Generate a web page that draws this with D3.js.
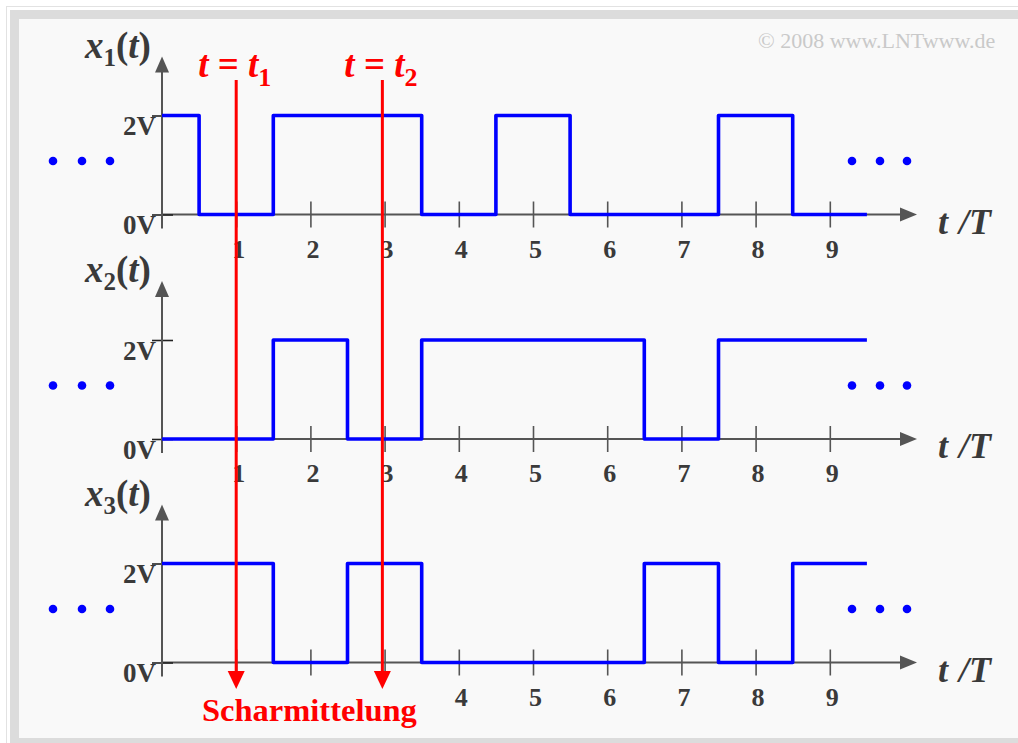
<!DOCTYPE html>
<html>
<head>
<meta charset="utf-8">
<script src="https://cdn.jsdelivr.net/npm/d3@7"></script>
<style>
  html, body { margin: 0; padding: 0; background: #fff; }
  svg { display: block; }
</style>
</head>
<body>
<script>
// Binary sample functions x1(t), x2(t), x3(t): one bit per symbol interval
// [k-0.5, k+0.5] on the t/T axis, bit 1 -> 2 V, bit 0 -> 0 V.
const symbolIndex = [0, 1, 2, 3, 4, 5, 6, 7, 8, 9];
const x1Bits = [1, 0, 1, 1, 0, 1, 0, 0, 1, 0];
const x2Bits = [0, 0, 1, 0, 1, 1, 1, 0, 1, 1];
const x3Bits = [1, 1, 0, 1, 0, 0, 0, 1, 0, 1];
const seriesIndex = ["1", "2", "3"];
const bitVolts = 2;

const levelValues = [0, 2];
const levelLabels = ["0V", "2V"];

const timeTicks = [1, 2, 3, 4, 5, 6, 7, 8, 9];
const timeTickLabelsTop = [1, 2, 3, 4, 5, 6, 7, 8, 9];
const timeTickLabelsBottom = [4, 5, 6, 7, 8, 9];

// Observation instants for the ensemble average
const samplingTimes = [1.0, 2.97];
const samplingNames = ["1", "2"];

const W = 1018, H = 743;
const serif = "'Liberation Serif', 'Times New Roman', serif";
const axisColor = "#555";
const textColor = "#3a3a3a";
const blue = "#0000ff";
const red = "#ff0000";

const svg = d3.select("body").append("svg")
  .attr("width", W).attr("height", H);

// Frame
svg.append("rect").attr("width", W).attr("height", H).attr("fill", "#fff");
svg.append("rect").attr("x", 6.5).attr("y", 6.5).attr("width", W).attr("height", H)
  .attr("fill", "none").attr("stroke", "#e2e2e2").attr("stroke-width", 1);
svg.append("rect").attr("x", 10).attr("y", 10).attr("width", W).attr("height", H)
  .attr("fill", "#dcdcdc");
svg.append("rect").attr("x", 19).attr("y", 19).attr("width", W).attr("height", 738 - 19)
  .attr("fill", "#f9f9f9");

// Copyright
svg.append("text").attr("x", 758).attr("y", 48)
  .attr("font-family", serif).attr("font-size", 22).attr("fill", "#c9c9c9")
  .text("\u00a9 2008 www.LNTwww.de");

const x = d3.scaleLinear().domain([0, 10]).range([162, 904]);
const axisEnd = 917;

const panels = [
  { bits: x1Bits, zero: 214.5, labels: timeTickLabelsTop },
  { bits: x2Bits, zero: 439, labels: timeTickLabelsTop },
  { bits: x3Bits, zero: 662.5, labels: timeTickLabelsBottom }
];

const stepLine = (y) => d3.line()
  .x(d => x(d.t)).y(d => y(d.v))
  .curve(d3.curveStepAfter);

panels.forEach((p, pi) => {
  const y = d3.scaleLinear().domain([0, 2]).range([p.zero, p.zero - 99]);
  const g = svg.append("g");

  // Time axis with crossing ticks
  const xAxis = d3.axisBottom(x)
    .tickValues(timeTicks)
    .tickSize(13)
    .tickPadding(0)
    .tickFormat(d => p.labels.includes(d) ? String(d) : "");
  const gx = g.append("g").attr("transform", `translate(0,${y(0)})`).call(xAxis);
  gx.select(".domain").remove();
  gx.selectAll(".tick line").attr("y1", -13).attr("stroke", axisColor).attr("stroke-width", 1.6);
  gx.selectAll(".tick text")
    .attr("y", 0).attr("dy", 0)
    .attr("transform", "translate(2,43)")
    .attr("font-family", serif).attr("font-size", 26).attr("font-weight", "bold")
    .attr("fill", textColor);
  g.append("line")
    .attr("x1", x(0)).attr("x2", axisEnd - 14)
    .attr("y1", y(0)).attr("y2", y(0))
    .attr("stroke", axisColor).attr("stroke-width", 2);
  g.append("path")
    .attr("d", `M${axisEnd},${y(0)} L${axisEnd - 17},${y(0) - 7} L${axisEnd - 17},${y(0) + 7} Z`)
    .attr("fill", axisColor);
  const tl = g.append("text")
    .attr("x", 938).attr("y", y(0) + 19)
    .attr("font-family", serif).attr("font-size", 36).attr("font-style", "italic").attr("font-weight", "bold")
    .attr("fill", textColor);
  tl.append("tspan").text("t");
  tl.append("tspan").attr("dx", 11).text("/");
  tl.append("tspan").text("T");

  // Amplitude axis
  const yAxis = d3.axisLeft(y)
    .tickValues(levelValues)
    .tickSize(10)
    .tickPadding(0)
    .tickFormat((d, i) => levelLabels[i]);
  const gy = g.append("g").attr("transform", `translate(${x(0)},0)`).call(yAxis);
  gy.select(".domain").remove();
  gy.selectAll(".tick line").attr("x2", -10).attr("x1", 11).attr("stroke", "#222").attr("stroke-width", 1.6);
  gy.selectAll(".tick text")
    .attr("x", -6).attr("dy", 0).attr("y", 19)
    .attr("text-anchor", "end")
    .attr("font-family", serif).attr("font-size", 27).attr("font-weight", "bold")
    .attr("fill", textColor);
  const yTop = y(2) - 59;
  g.append("line")
    .attr("x1", x(0)).attr("x2", x(0))
    .attr("y1", y(0) + 14).attr("y2", yTop + 14)
    .attr("stroke", axisColor).attr("stroke-width", 2);
  g.append("path")
    .attr("d", `M${x(0)},${yTop} L${x(0) - 7},${yTop + 16} L${x(0) + 7},${yTop + 16} Z`)
    .attr("fill", axisColor);
  const yl = g.append("text")
    .attr("x", 85).attr("y", y(0) - 157)
    .attr("font-family", serif).attr("font-size", 37).attr("font-weight", "bold")
    .attr("fill", textColor);
  yl.append("tspan").attr("font-style", "italic").text("x");
  yl.append("tspan").attr("font-size", 25).attr("dy", 8).text(seriesIndex[pi]);
  yl.append("tspan").attr("dy", -8).text("(");
  yl.append("tspan").attr("font-style", "italic").text("t");
  yl.append("tspan").text(")");

  // Continuation dots
  const dotY = y(1) - 4;
  [53, 82, 110, 852, 880, 907].forEach(cx => {
    g.append("circle").attr("cx", cx).attr("cy", dotY).attr("r", 4.3).attr("fill", blue);
  });

  // Rectangular signal
  const pts = symbolIndex.map(k => ({ t: Math.max(0, k - 0.5), v: p.bits[k] * bitVolts }));
  const last = symbolIndex[symbolIndex.length - 1];
  pts.push({ t: last + 0.5, v: p.bits[last] * bitVolts });
  g.append("path")
    .datum(pts)
    .attr("d", stepLine(y))
    .attr("fill", "none")
    .attr("stroke", blue)
    .attr("stroke-width", 3.6)
    .attr("stroke-linejoin", "round");
});

// Sampling instants t1, t2 with arrows down to the ensemble-average label
const redTop = 80, redTip = 689;
samplingTimes.forEach((t, i) => {
  const cx = x(t);
  svg.append("line")
    .attr("x1", cx).attr("x2", cx).attr("y1", redTop).attr("y2", redTip - 12)
    .attr("stroke", red).attr("stroke-width", 3);
  svg.append("path")
    .attr("d", `M${cx},${redTip} L${cx - 8.5},${redTip - 18} L${cx + 8.5},${redTip - 18} Z`)
    .attr("fill", red);
  const lbl = svg.append("text")
    .attr("x", cx - 38).attr("y", 77)
    .attr("font-family", serif).attr("font-size", 37).attr("font-weight", "bold")
    .attr("fill", red);
  lbl.append("tspan").attr("font-style", "italic").text("t");
  lbl.append("tspan").text(" = ");
  lbl.append("tspan").attr("font-style", "italic").text("t");
  lbl.append("tspan").attr("font-size", 26).attr("dy", 9).text(samplingNames[i]);
});

svg.append("text")
  .attr("x", 202).attr("y", 721)
  .attr("font-family", serif).attr("font-size", 32.5).attr("font-weight", "bold")
  .attr("fill", red)
  .text("Scharmittelung");
</script>
</body>
</html>
